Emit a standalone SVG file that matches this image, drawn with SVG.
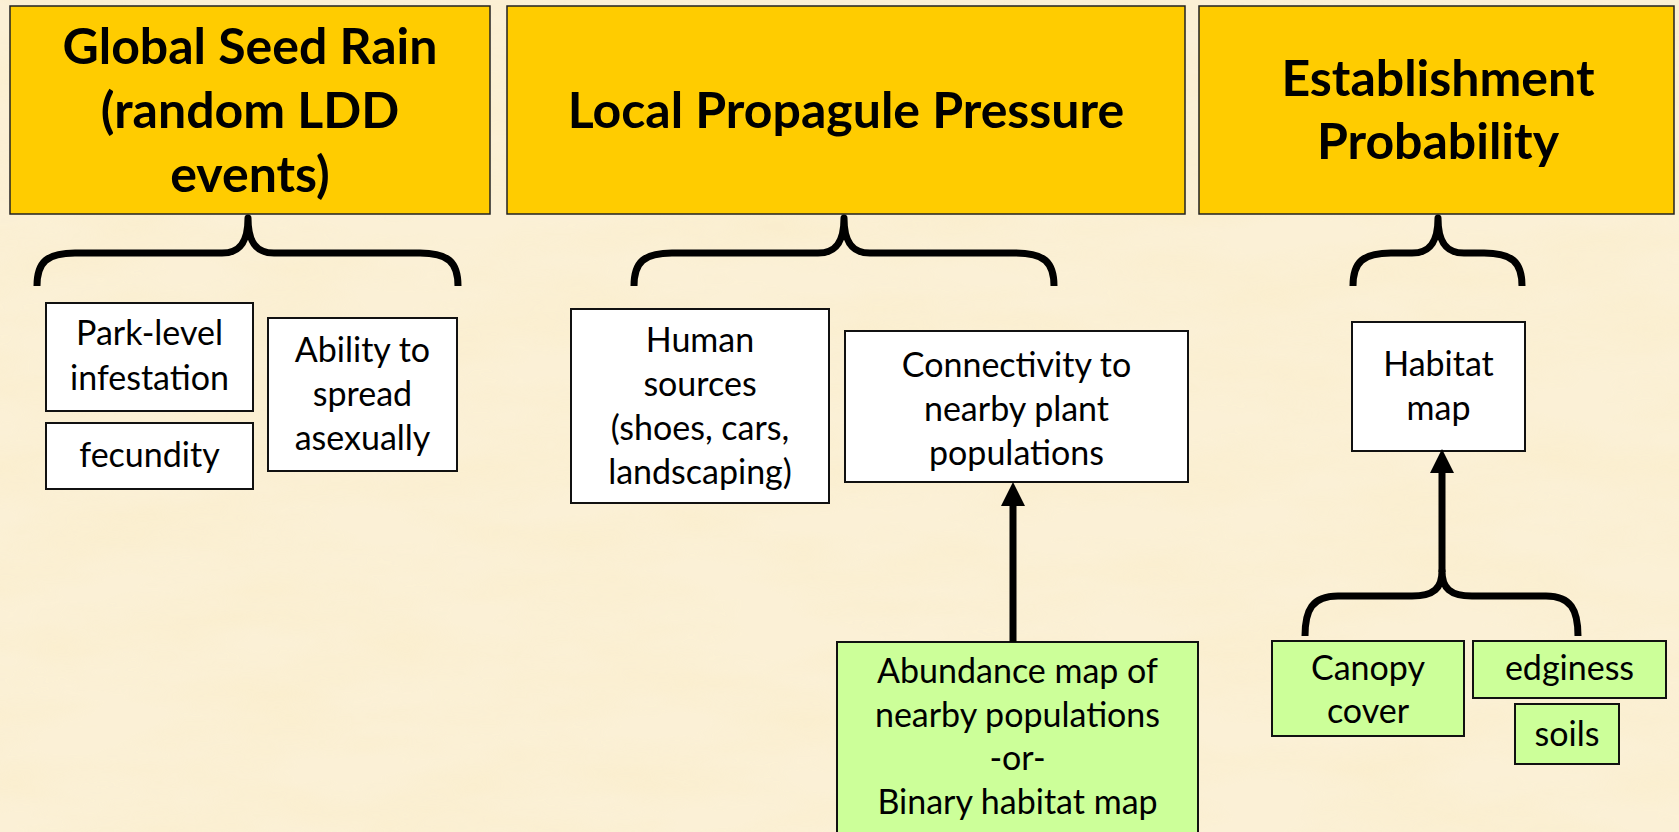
<svg xmlns="http://www.w3.org/2000/svg" width="1679" height="832" viewBox="0 0 1679 832">
<style>
.title{font-family:Lato,"Liberation Sans",sans-serif;font-weight:bold;font-size:50px;fill:#000;text-anchor:middle}
.body{font-family:Lato,"Liberation Sans",sans-serif;font-size:34px;fill:#000;text-anchor:middle}
.tbox{fill:#FFCC00;stroke:#222;stroke-width:1.5}
.wbox{fill:#fff;stroke:#111;stroke-width:2}
.gbox{fill:#CCFF99;stroke:#111;stroke-width:2}
.brace{fill:none;stroke:#000;stroke-width:7;stroke-linejoin:round}
.shaft{fill:none;stroke:#000;stroke-width:7}
</style>
<defs>
<filter id="tex" x="0" y="0" width="100%" height="100%">
<feTurbulence type="fractalNoise" baseFrequency="0.006 0.02" numOctaves="4" seed="7"/>
<feColorMatrix type="matrix" values="0 0 0 0 0.96  0 0 0 0 0.85  0 0 0 0 0.60  0 0 0 1.8 -0.6"/>
</filter>
</defs>
<rect x="0" y="0" width="1679" height="832" fill="#FBF0D6"/>
<rect x="0" y="0" width="1679" height="832" filter="url(#tex)" opacity="0.7"/>

<g id="global-seed-rain">
<rect class="tbox" x="10" y="6" width="480" height="208"/>
<text class="title" x="250" y="64">Global Seed Rain</text>
<text class="title" x="250" y="128">(random LDD</text>
<text class="title" x="250" y="192">events)</text>
</g>
<g id="local-propagule-pressure">
<rect class="tbox" x="507" y="6" width="678" height="208"/>
<text class="title" x="846" y="128">Local Propagule Pressure</text>
</g>
<g id="establishment-probability">
<rect class="tbox" x="1199" y="6" width="475" height="208"/>
<text class="title" x="1438" y="96">Establishment</text>
<text class="title" x="1438" y="159">Probability</text>
</g>

<g id="park-level">
<rect class="wbox" x="46" y="303" width="207" height="108"/>
<text class="body" x="149.5" y="345">Park-level</text>
<text class="body" x="149.5" y="390">infestation</text>
</g>
<g id="fecundity">
<rect class="wbox" x="46" y="423" width="207" height="66"/>
<text class="body" x="149.5" y="467">fecundity</text>
</g>
<g id="ability">
<rect class="wbox" x="268" y="318" width="189" height="153"/>
<text class="body" x="362.5" y="362">Ability to</text>
<text class="body" x="362.5" y="406">spread</text>
<text class="body" x="362.5" y="450">asexually</text>
</g>
<g id="human-sources">
<rect class="wbox" x="571" y="309" width="258" height="194"/>
<text class="body" x="700" y="352">Human</text>
<text class="body" x="700" y="396">sources</text>
<text class="body" x="700" y="440">(shoes, cars,</text>
<text class="body" x="700" y="484">landscaping)</text>
</g>
<g id="connectivity">
<rect class="wbox" x="845" y="331" width="343" height="151"/>
<text class="body" x="1016.5" y="377">Connectivity to</text>
<text class="body" x="1016.5" y="421">nearby plant</text>
<text class="body" x="1016.5" y="465">populations</text>
</g>
<g id="abundance-map">
<rect class="gbox" x="837" y="642" width="361" height="200"/>
<text class="body" x="1017.5" y="683">Abundance map of</text>
<text class="body" x="1017.5" y="727">nearby populations</text>
<text class="body" x="1017.5" y="770">-or-</text>
<text class="body" x="1017.5" y="814">Binary habitat map</text>
</g>
<g id="habitat-map">
<rect class="wbox" x="1352" y="322" width="173" height="129"/>
<text class="body" x="1438.5" y="376">Habitat</text>
<text class="body" x="1438.5" y="420">map</text>
</g>
<g id="canopy-cover">
<rect class="gbox" x="1272" y="641" width="192" height="95"/>
<text class="body" x="1368" y="680">Canopy</text>
<text class="body" x="1368" y="723">cover</text>
</g>
<g id="edginess">
<rect class="gbox" x="1473" y="641" width="193" height="57"/>
<text class="body" x="1569.5" y="680">edginess</text>
</g>
<g id="soils">
<rect class="gbox" x="1515" y="704" width="104" height="60"/>
<text class="body" x="1567" y="746">soils</text>
</g>

<g id="connectors">
<path class="brace" d="M37,286 C37,262 47,253 75,253 L222,253 C240,253 248,242 248,218 C248,242 256,253 274,253 L420,253 C448,253 458,262 458,286"/>
<path class="brace" d="M634,286 C634,262 644,253 672,253 L818,253 C836,253 844,242 844,218 C844,242 852,253 870,253 L1016,253 C1044,253 1054,262 1054,286"/>
<path class="brace" d="M1353,286 C1353,262 1363,253 1391,253 L1412,253 C1430,253 1438,242 1438,218 C1438,242 1446,253 1464,253 L1484,253 C1512,253 1522,262 1522,286"/>
<path class="shaft" d="M1013,642 L1013,504"/>
<path d="M1001,506 L1013,482 L1025,506 Z" fill="#000"/>
<path class="brace" d="M1305,636 C1305,610 1312,596 1338,596 L1412,596 C1434,596 1442,588 1442,571 C1442,588 1450,596 1472,596 L1546,596 C1571,596 1578,610 1578,636"/>
<path class="shaft" d="M1442,572 L1442,470"/>
<path d="M1430,473 L1442,449 L1454,473 Z" fill="#000"/>
</g>
</svg>
